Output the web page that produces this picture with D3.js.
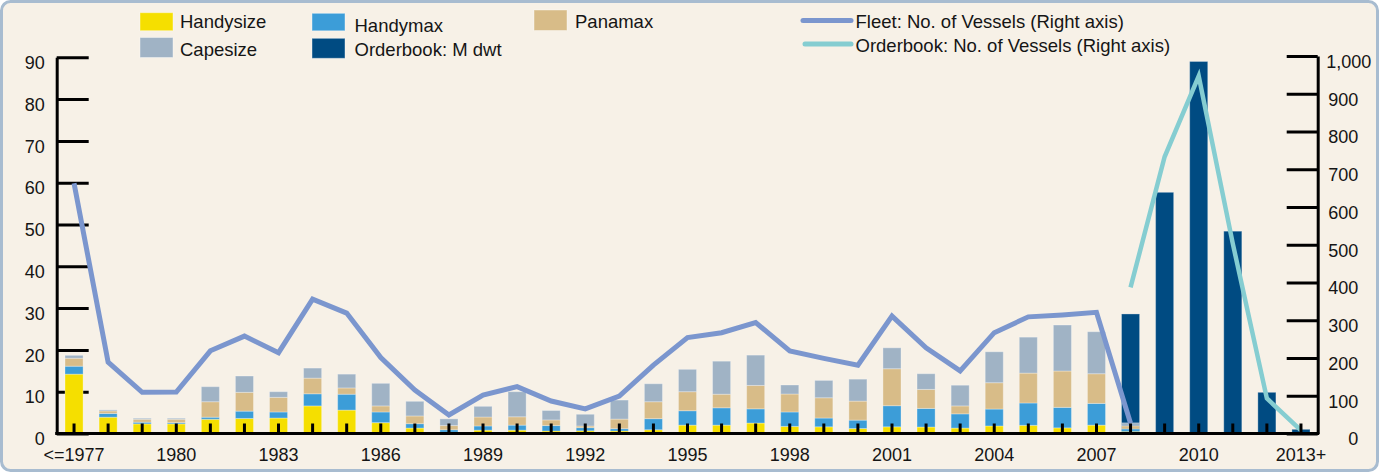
<!DOCTYPE html>
<html>
<head>
<meta charset="utf-8">
<script src="https://cdn.jsdelivr.net/npm/d3@7/dist/d3.min.js"></script>
<style>
  html, body { margin: 0; padding: 0; background: #ffffff; }
  svg { display: block; }
  text { font-family: "Liberation Sans", Arial, sans-serif; }
</style>
</head>
<body>
<div id="chart"></div>
<script>
// ---------- DATA ----------
const categories = ["<=1977","1978","1979","1980","1981","1982","1983","1984","1985","1986",
  "1987","1988","1989","1990","1991","1992","1993","1994","1995","1996","1997","1998","1999",
  "2000","2001","2002","2003","2004","2005","2006","2007","2008","2009","2010","2011","2012","2013+"];

// Fleet by year built (M dwt), <=1977 .. 2008
const fleetYears = categories.slice(0, 32);
const handysize = [14.2,3.9,2.3,2.3,3.4,3.6,3.7,6.6,5.6,2.6,1.3,0.3,0.8,0.8,0.6,0.65,0.6,0.9,2.0,2.0,2.5,1.7,1.6,1.2,1.6,1.55,1.3,1.8,1.95,1.35,2.0,0.5];
const handymax  = [1.9,0.9,0.4,0.3,0.5,1.75,1.45,2.9,3.8,2.55,1.05,0.6,1.0,1.2,1.3,0.75,0.55,2.65,3.45,4.15,3.4,3.45,2.1,2.0,5.05,4.45,3.4,4.05,5.35,4.9,5.2,0.6];
const panamax   = [1.9,0.6,0.7,0.8,3.7,4.5,3.5,3.75,1.5,1.45,1.85,1.0,2.15,2.0,1.35,0.4,2.3,4.05,4.55,3.25,5.6,4.3,4.85,4.55,8.85,4.55,1.9,6.3,7.15,8.7,7.1,0.75];
const capesize  = [0.7,0.25,0.25,0.25,3.6,3.9,1.35,2.4,3.3,5.4,3.5,1.6,2.55,6.0,2.25,2.8,4.55,4.3,5.35,7.9,7.25,2.15,4.15,5.25,5.0,3.75,4.95,7.4,8.6,11.0,10.05,0.7];

// Orderbook (M dwt), 2008 .. 2013+
const orderYears = categories.slice(31);
const orderbookDwt = [28.6,57.7,89.0,48.4,9.85,1.0];

// Number of vessels (right axis)
const fleetVessels = [663,189,109,110,219,258,214,356,319,201,115,49,102,124,86,65,99,181,254,267,294,219,199,181,311,227,166,267,309,314,321,27];
const orderVessels = [387,733,947,503,93,8];

const leftTicks = [0,10,20,30,40,50,60,70,80,90];
const rightTicks = [0,100,200,300,400,500,600,700,800,900,1000];

// ---------- STYLE ----------
const W = 1385, H = 475;
const colors = {
  handysize: "#F5DF00",
  handymax: "#3C9DD8",
  panamax: "#D8BC88",
  capesize: "#A0B3C5",
  orderbook: "#004B82",
  fleetLine: "#7B96CE",
  orderLine: "#85CDD1"
};
const FONT = 18;
const LFONT = 18.5;

const svg = d3.select("#chart").append("svg").attr("width", W).attr("height", H);

// frame
svg.append("rect").attr("x", 1.5).attr("y", 1.5).attr("width", 1376).attr("height", 469)
  .attr("rx", 9).attr("fill", "#F7F1E7").attr("stroke", "#A8BCD0").attr("stroke-width", 3);

// scales
const x = d3.scaleBand().domain(categories).range([57, 1318]).paddingInner(0.47).paddingOuter(0.235);
const yL = d3.scaleLinear().domain([0, 90]).range([433.5, 57.3]);
const yR = d3.scaleLinear().domain([0, 1000]).range([433.5, 56]);
const cx = c => x(c) + x.bandwidth() / 2;

// left axis
const gL = svg.append("g").attr("transform", "translate(56.7,0)")
  .call(d3.axisLeft(yL).tickValues(leftTicks).tickSizeInner(-32).tickSizeOuter(0).tickPadding(12));
// right axis
const gR = svg.append("g").attr("transform", "translate(1317.7,0)")
  .call(d3.axisRight(yR).tickValues(rightTicks).tickFormat(d3.format(",")).tickSizeInner(-31).tickSizeOuter(0).tickPadding(9));

[gL, gR].forEach(g => {
  g.select(".domain").attr("stroke", "#000").attr("stroke-width", 3);
  g.selectAll(".tick line").attr("stroke", "#000").attr("stroke-width", 3);
  g.selectAll(".tick text").attr("font-size", FONT).attr("fill", "#151515")
    .attr("font-family", "Liberation Sans, Arial, sans-serif").attr("y", 5.5);
});
gR.selectAll(".tick text").each(function() {
  const t = d3.select(this);
  const w = this.getComputedTextLength();
  if (w > 34) t.attr("text-anchor", "start").attr("x", 8.5);
  else t.attr("text-anchor", "end").attr("x", 40.5);
});

// orderbook bars
svg.append("g").selectAll("rect").data(orderYears.map((c, i) => ({c, v: orderbookDwt[i]})))
  .join("rect")
  .attr("x", d => x(d.c)).attr("width", x.bandwidth())
  .attr("y", d => yL(d.v)).attr("height", d => yL(0) - yL(d.v))
  .attr("fill", colors.orderbook)
  .attr("stroke", "rgba(255,255,255,0.3)").attr("stroke-width", 1);

// fleet stacked bars
const rows = fleetYears.map((c, i) => ({c, handysize: handysize[i], handymax: handymax[i], panamax: panamax[i], capesize: capesize[i]}));
const keys = ["handysize", "handymax", "panamax", "capesize"];
const stacked = d3.stack().keys(keys)(rows);
svg.append("g").selectAll("g").data(stacked).join("g")
  .attr("fill", s => colors[s.key])
  .selectAll("rect").data(s => s).join("rect")
  .attr("x", d => x(d.data.c)).attr("width", x.bandwidth())
  .attr("y", d => yL(d[1])).attr("height", d => yL(d[0]) - yL(d[1]))
  .attr("stroke", "rgba(255,255,255,0.3)").attr("stroke-width", 1);

// lines
const line = d3.line().x(d => cx(d.c)).y(d => yR(d.v));
svg.append("path").datum(fleetYears.map((c, i) => ({c, v: fleetVessels[i]})))
  .attr("d", line).attr("fill", "none").attr("stroke", colors.fleetLine).attr("stroke-width", 5);
svg.append("path").datum(orderYears.map((c, i) => ({c, v: orderVessels[i]})))
  .attr("d", line).attr("fill", "none").attr("stroke", colors.orderLine).attr("stroke-width", 4.5);

// bottom axis
const gB = svg.append("g").attr("transform", "translate(0,433.5)")
  .call(d3.axisBottom(x).tickSizeInner(-10).tickSizeOuter(0).tickPadding(15)
    .tickFormat((d, i) => (i % 3 === 0 ? d : "")));
gB.select(".domain").attr("stroke", "#000").attr("stroke-width", 3).attr("d", "M55.2,0H1319.2");
gB.selectAll(".tick line").attr("stroke", "#000").attr("stroke-width", 3);
gB.selectAll(".tick text").attr("font-size", FONT).attr("fill", "#151515")
  .attr("font-family", "Liberation Sans, Arial, sans-serif");

// legend
const legendBoxes = [
  {label: "Handysize", color: colors.handysize, x: 140, y: 12.7, h: 18, tx: 180, ty: 21.7},
  {label: "Capesize", color: colors.capesize, x: 140, y: 37.5, h: 20, tx: 180, ty: 49.3},
  {label: "Handymax", color: colors.handymax, x: 312, y: 13.3, h: 17.5, tx: 354.5, ty: 25},
  {label: "Orderbook: M dwt", color: colors.orderbook, x: 312, y: 38.3, h: 20, tx: 354.5, ty: 49.3},
  {label: "Panamax", color: colors.panamax, x: 534, y: 10, h: 20.5, tx: 575, ty: 21.7}
];
const lg = svg.append("g");
legendBoxes.forEach(b => {
  lg.append("rect").attr("x", b.x).attr("y", b.y).attr("width", 33).attr("height", b.h)
    .attr("fill", b.color).attr("stroke", "rgba(255,255,255,0.4)").attr("stroke-width", 1);
  lg.append("text").attr("x", b.tx).attr("y", b.ty + 6.6).attr("font-size", LFONT).attr("fill", "#151515").text(b.label);
});
const legendLines = [
  {label: "Fleet: No. of Vessels (Right axis)", color: colors.fleetLine, x1: 803, x2: 851, y: 20.5, tx: 855.5, ty: 21.3},
  {label: "Orderbook: No. of Vessels (Right axis)", color: colors.orderLine, x1: 805, x2: 851, y: 44, tx: 855.5, ty: 45.6}
];
legendLines.forEach(b => {
  lg.append("line").attr("x1", b.x1).attr("x2", b.x2).attr("y1", b.y).attr("y2", b.y)
    .attr("stroke", b.color).attr("stroke-width", 5).attr("stroke-linecap", "round");
  lg.append("text").attr("x", b.tx).attr("y", b.ty + 6.6).attr("font-size", LFONT).attr("fill", "#151515").text(b.label);
});
</script>
</body>
</html>
